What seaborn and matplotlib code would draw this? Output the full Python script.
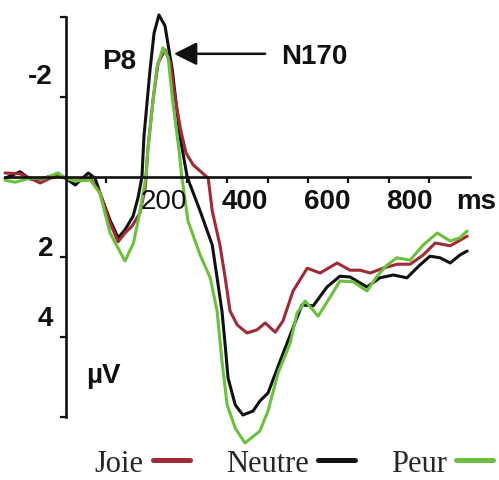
import matplotlib
matplotlib.use("Agg")
import matplotlib.pyplot as plt
import seaborn as sns
import pandas as pd
from matplotlib.lines import Line2D

# ---- data (time in ms, amplitude in µV; negative plotted upward) ----
joie_t = [-150, -113, -88, -63, -38, -14, 0, 24, 61, 85, 110, 130, 147, 165, 184, 197, 204, 217, 229, 246,
          259, 271, 284, 298, 316, 333, 353, 363, 382, 395, 407, 425, 449, 474, 494, 519, 538, 563, 598, 630,
          672, 704, 729, 754, 786, 821, 853, 885, 915, 952, 994]
joie_v = [-0.1, -0.08, 0.03, 0.15, 0.03, -0.03, 0.03, 0.1, 0.03, 0.4, 1.15, 1.62, 1.4, 1.22, 0.9, 0.28, -0.73, -1.98, -2.85, -3.18,
          -2.85, -1.98, -1.22, -0.6, -0.3, -0.15, 0.03, 0.85, 1.7, 2.52, 3.35, 3.7, 3.9, 3.82, 3.65, 3.88, 3.6, 2.85, 2.28, 2.4,
          2.15, 2.33, 2.33, 2.4, 2.28, 2.18, 2.18, 1.95, 1.65, 1.72, 1.48]

neutre_t = [-150, -113, -88, -63, -26, 0, 24, 56, 73, 85, 110, 130, 147, 167, 179, 189, 194, 209, 219, 231,
            246, 264, 283, 301, 333, 363, 375, 387, 395, 402, 420, 439, 464, 481, 501, 531, 556, 585, 613, 647,
            679, 704, 746, 778, 811, 845, 877, 902, 927, 952, 976, 994]
neutre_v = [0.03, -0.13, 0.05, 0.05, -0.05, 0.03, 0.2, -0.1, 0.03, 0.4, 1.08, 1.52, 1.32, 0.98, 0.53, 0.0, -1.02, -2.68, -3.6, -4.05,
            -3.78, -2.68, -1.02, 0.0, 0.85, 1.7, 2.52, 3.35, 4.2, 5.02, 5.7, 5.95, 5.85, 5.6, 5.4, 4.6, 3.95, 3.2, 3.22, 2.75,
            2.48, 2.5, 2.75, 2.52, 2.45, 2.52, 2.2, 1.98, 2.02, 2.15, 1.95, 1.85]

peur_t = [-150, -125, -88, -51, -19, 0, 24, 61, 85, 110, 147, 168, 181, 199, 204, 217, 226, 241, 254, 264,
          280, 288, 303, 333, 358, 375, 387, 400, 420, 444, 481, 501, 526, 556, 573, 593, 625, 655, 679, 712,
          746, 771, 796, 820, 853, 885, 920, 952, 976, 994]
peur_v = [0.08, 0.13, 0.03, 0.03, -0.1, 0.03, 0.1, 0.08, 0.4, 1.4, 2.1, 1.65, 1.02, 0.0, -0.73, -1.98, -2.73, -3.23, -2.98, -1.98,
          -0.73, 0.03, 1.1, 1.95, 2.52, 3.35, 4.6, 5.7, 6.28, 6.65, 6.35, 5.85, 4.9, 4.15, 3.4, 3.1, 3.48, 3.0, 2.6, 2.62,
          2.85, 2.48, 2.2, 2.02, 2.08, 1.7, 1.4, 1.6, 1.52, 1.35]

x_ticks = [100, 200, 300, 400, 500, 600, 700, 800, 900]
x_labels = ["200", "400", "600", "800"]
x_label_pos = [244, 444, 647, 850]
y_ticks = [-4, -2, 0, 2, 4, 6]
y_labels = ["-2", "2", "4"]
y_label_pos = [-2.53, 1.78, 3.53]
legend_names = ["Joie", "Neutre", "Peur"]

c_joie = "#9e2b36"
c_neutre = "#111111"
c_peur = "#6cbf3f"

sns.set_style("white")
plt.rcParams['font.family'] = ['Liberation Sans', 'DejaVu Sans']

fig = plt.figure(figsize=(4.99, 4.81), dpi=100)
ax = fig.add_axes([5 / 499, 63 / 481, 465 / 499, 400 / 481])

for t, v, c in [(neutre_t, neutre_v, c_neutre), (joie_t, joie_v, c_joie), (peur_t, peur_v, c_peur)]:
    df = pd.DataFrame({"t": t, "v": v})
    sns.lineplot(data=df, x="t", y="v", color=c, lw=2.2, ax=ax, sort=False,
                 estimator=None, clip_on=False, solid_joinstyle="round")

ax.set_xlim(-150, 1001)
ax.set_ylim(6, -4)
ax.set_xlabel("")
ax.set_ylabel("")

for s in ["top", "right"]:
    ax.spines[s].set_visible(False)
ax.spines["left"].set_position(("data", 0))
ax.spines["bottom"].set_position(("data", 0))
for s in ["left", "bottom"]:
    ax.spines[s].set_linewidth(1.9)
    ax.spines[s].set_color("#111111")

ax.set_xticks(x_ticks)
ax.set_yticks(y_ticks)
ax.tick_params(axis="both", direction="out", length=4, width=1.6, color="#111111",
               bottom=True, left=True, labelbottom=False, labelleft=False)

bold = dict(fontsize=20, fontweight="bold", color="#111111")
for lab, pos in zip(x_labels, x_label_pos):
    w = "normal" if lab == "200" else "bold"
    ax.text(pos, 0.6, lab, ha="center", va="center", fontsize=20, fontweight=w, color="#111111")
ax.text(1016, 0.6, "ms", ha="center", va="center", **bold)
for lab, pos in zip(y_labels, y_label_pos):
    ax.text(-31, pos, lab, ha="right", va="center", **bold)

ax.text(132, -2.9, "P8", ha="center", va="center", **bold)
ax.text(615, -3.03, "N170", ha="center", va="center", **bold)
ax.text(93, 4.95, "µV", ha="center", va="center", **bold)

ax.annotate("", xy=(268, -3.08), xytext=(494, -3.08),
            arrowprops=dict(arrowstyle="-|>,head_length=0.7,head_width=0.35", mutation_scale=20,
                            lw=1.8, color="#111111", shrinkA=0, shrinkB=0))

handles = [Line2D([], [], color=c, lw=3.6) for c in [c_joie, c_neutre, c_peur]]
fig.legend(handles, legend_names, loc="center", bbox_to_anchor=(0.589, 0.035), ncol=3,
           frameon=False, markerfirst=False, handlelength=1.2, handletextpad=0.3,
           columnspacing=1.2, prop={"family": "Liberation Serif", "size": 22})

fig.savefig("out.png", dpi=100)
